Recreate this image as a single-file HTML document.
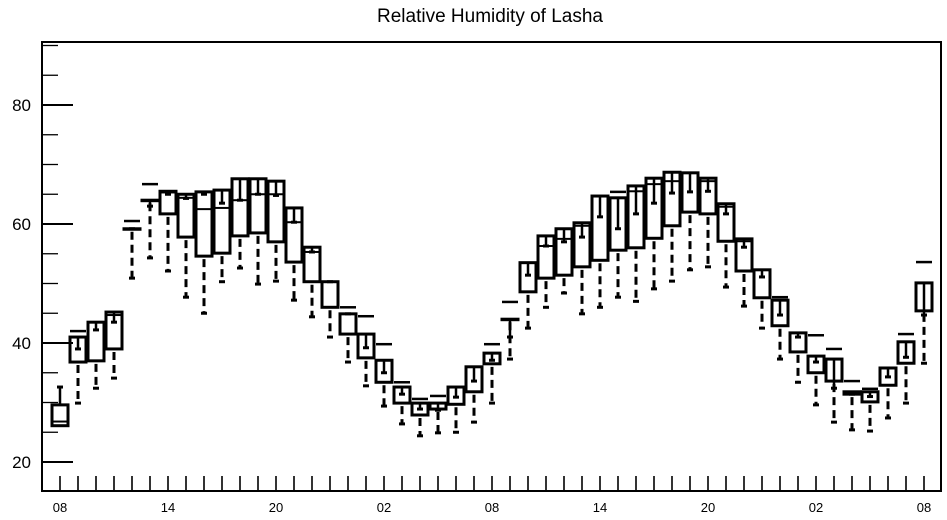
<!DOCTYPE html>
<html><head><meta charset="utf-8"><style>
body{margin:0;background:#fff}
svg{display:block;font-family:"Liberation Sans",Arial,sans-serif}
</style></head><body>
<svg id="chart" width="947" height="520" viewBox="0 0 947 520">
<text x="490" y="22" text-anchor="middle" font-size="19">Relative Humidity of Lasha</text>
<g id="axes"></g>
<g id="marks"></g>
<rect x="42" y="42" width="899" height="449" fill="none" stroke="#000" stroke-width="2"/>
</svg>
<script>
const hourLabels = ["08","14","20","02","08","14","20","02","08"];
const yTicks = [20,40,60,80];
const q3s   = [29.6,41.0,43.5,45.2,59.2,64.0,65.5,65.0,65.4,65.7,67.6,67.6,67.2,62.7,56.1,50.3,44.9,41.5,37.1,32.6,29.9,29.9,32.6,36.0,38.3,44.0,53.5,58.0,59.2,60.2,64.7,64.4,66.4,67.7,68.7,68.6,67.7,63.4,57.5,52.3,47.2,41.7,37.8,37.3,31.8,31.8,35.8,40.2,50.1];
const q1s   = [26.1,36.8,37.0,39.0,59.2,64.0,61.7,57.8,54.6,55.1,58.0,58.5,57.0,53.6,50.3,46.0,41.5,37.5,33.4,29.9,27.9,28.9,29.7,31.8,36.5,44.0,48.6,50.9,51.4,52.8,53.9,55.6,56.0,57.6,59.7,62.0,61.7,57.1,52.1,47.6,42.9,38.5,35.0,33.6,31.4,30.1,32.9,36.6,45.4];
const medians=[26.8,41.0,43.5,44.7,59.2,64.0,65.3,64.4,62.5,62.7,64.0,65.0,65.0,60.3,55.3,50.3,44.9,41.5,37.1,32.6,29.9,29.9,32.6,36.0,38.3,44.0,53.5,56.3,57.5,59.7,64.7,64.4,65.5,66.7,67.2,68.6,67.2,62.9,57.1,52.3,47.2,41.7,37.8,37.3,31.8,31.8,35.8,40.2,50.1];
const means = [32.6,39.0,42.2,43.5,59.2,63.0,65.0,64.3,65.0,63.5,64.0,65.0,64.8,60.3,55.3,50.3,44.9,39.2,35.0,31.4,28.9,28.7,30.9,33.6,37.1,41.0,51.4,56.3,57.0,57.8,61.2,59.2,61.7,63.5,65.2,65.4,65.5,61.7,56.1,51.1,44.7,41.0,36.8,32.4,31.4,31.0,34.3,37.6,44.7];
const mins  = [26.1,29.9,32.4,34.1,50.9,54.3,52.1,47.7,45.0,50.3,52.6,49.9,50.4,47.2,44.4,41.0,36.8,32.8,29.4,26.4,24.4,24.9,25.0,26.7,29.9,37.3,42.5,46.0,48.4,44.9,46.0,47.7,47.0,49.1,50.4,52.3,52.8,49.4,46.2,42.5,37.3,33.4,29.6,26.7,25.4,25.2,27.4,29.9,36.6];
const maxs  = [29.6,42.0,43.7,45.2,60.5,66.7,65.5,65.0,65.4,65.7,67.6,67.6,67.2,62.7,56.1,50.3,46.0,44.5,39.8,33.4,30.6,31.1,32.8,36.1,39.8,46.9,53.6,58.0,59.2,60.2,65.0,65.4,66.4,67.7,68.7,68.6,67.7,63.4,57.5,52.3,47.7,41.7,41.3,39.0,33.6,32.3,35.8,41.5,53.6];

const NS="http://www.w3.org/2000/svg";
const X0=60, DX=18, Y20=462, PPU=5.95, TOP=42, BOT=491, LEFT=42;
function xs(i){return X0+i*DX;}
function ys(v){return Y20-(v-20)*PPU;}
const axes=document.getElementById('axes'), marks=document.getElementById('marks');
function mk(tag,attrs,parent){const e=document.createElementNS(NS,tag);for(const k in attrs)e.setAttribute(k,attrs[k]);parent.appendChild(e);return e;}

// y ticks
for(let v=20; v<=90; v+=5){
  const major = yTicks.indexOf(v)>=0;
  const t=mk('line',{x1:LEFT,x2:LEFT+(major?31:16),y1:ys(v),y2:ys(v),stroke:'#000','stroke-width':major?2:1.3},axes);
  
  
}
yTicks.forEach(v=>{
  const t=mk('text',{x:31,y:ys(v)+6,'text-anchor':'end','font-size':'17'},axes);
  t.textContent=v;
  
  
});
// x ticks
for(let i=0;i<q3s.length;i++){
  const t=mk('line',{x1:xs(i),x2:xs(i),y1:BOT,y2:BOT-15,stroke:'#000','stroke-width':1.6},axes);
  
  
}
hourLabels.forEach((h,k)=>{
  const t=mk('text',{x:xs(k*6),y:512,'text-anchor':'middle','font-size':'13'},axes);
  t.textContent=h;
  
  
});

// boxes
for(let i=0;i<q3s.length;i++){
  const g=mk('g',{stroke:'#000',fill:'none','stroke-width':3},marks);
  
  
  const x=xs(i);
  // lower whisker
  if(q1s[i]-mins[i]>0.3){
    const w=mk('line',{x1:x,x2:x,y1:ys(q1s[i])+3,y2:ys(mins[i]),'stroke-dasharray':'8 5'},g);
    
    
    const c=mk('line',{x1:x-3,x2:x+3,y1:ys(mins[i]),y2:ys(mins[i])},g);
    
    
  }
  // box
  const top=ys(q3s[i]), bot=ys(q1s[i]);
  const b=mk('rect',{x:x-8,y:top,width:16,height:Math.max(bot-top,0.5)},g);
  
  
  const m=mk('line',{x1:x-8,x2:x+8,y1:ys(medians[i]),y2:ys(medians[i]),'stroke-width':2},g);
  
  
  // mean marker
  if(Math.abs(q3s[i]-means[i])>0.3){
    const v=mk('line',{x1:x,x2:x,y1:top,y2:ys(means[i]),'stroke-width':2.5},g);
    
    
  }
  const mc=mk('line',{x1:x-3,x2:x+3,y1:ys(means[i]),y2:ys(means[i])},g);
  
  
  // max dash
  if(maxs[i]-q3s[i]>0.3){
    const d=mk('line',{x1:x-8,x2:x+8,y1:ys(maxs[i]),y2:ys(maxs[i]),'stroke-width':2.5},g);
    
    
  }
}
</script>
</body></html>
